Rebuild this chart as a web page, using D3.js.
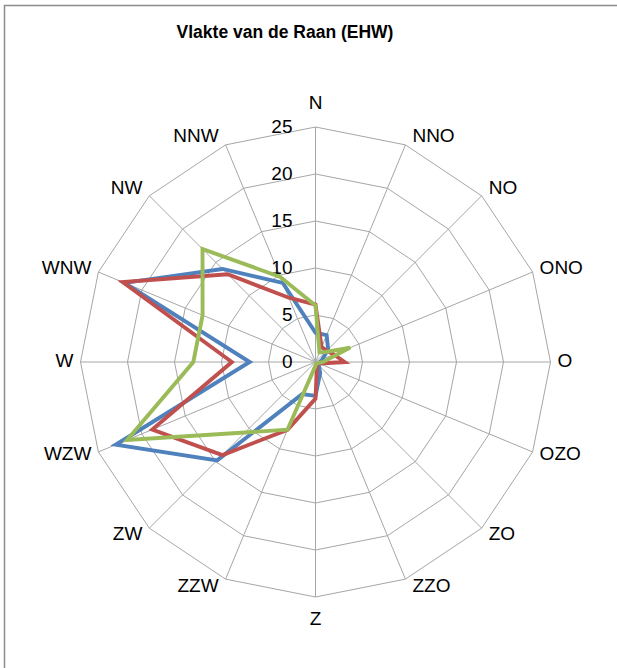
<!DOCTYPE html>
<html>
<head>
<meta charset="utf-8">
<script src="https://cdn.jsdelivr.net/npm/d3@7"></script>
<style>
  body { margin: 0; background: #fff; }
  svg text { font-family: "Liberation Sans", Arial, sans-serif; fill: #000; }
  .grid { fill: none; stroke: #a6a6a6; stroke-width: 1; }
  .serie { fill: none; stroke-width: 3.9; stroke-linejoin: miter; }
</style>
</head>
<body>
<svg id="chart" width="617" height="668"></svg>
<script>
const directions = ["N", "NNO", "NO", "ONO", "O", "OZO", "ZO", "ZZO", "Z", "ZZW", "ZW", "WZW", "W", "WNW", "NW", "NNW"];
const blueValues  = [3.1, 3.1, 1.9, 0.8, 0.5, 0.4, 0.5, 1.3, 3.6, 3.7, 14.8, 23.0, 7.0, 22.0, 14.0, 9.1];
const redValues   = [6.1, 1.7, 1.7, 2.1, 3.1, 0.4, 0.3, 0.4, 3.9, 7.8, 14.0, 18.8, 8.9, 22.2, 13.2, 7.4];
const greenValues = [6.0, 1.1, 1.5, 4.0, 0.8, 0.3, 0.2, 0.2, 0.4, 7.8, 10.6, 21.7, 13.0, 13.0, 17.0, 9.8];
const tickValues = [0, 5, 10, 15, 20, 25];
const chartTitle = "Vlakte van de Raan (EHW)";

const series = [
  { name: "blue", color: "#4f81bd", values: blueValues },
  { name: "red", color: "#c0504d", values: redValues },
  { name: "green", color: "#9bbb59", values: greenValues }
];

const svg = d3.select("#chart");
const cx = 315.5, cy = 362, radius = 235;

// chart frame (runs past the right and bottom edge)
svg.append("rect")
  .attr("x", 4.5)
  .attr("y", 5.5)
  .attr("width", 700)
  .attr("height", 700)
  .attr("fill", "none")
  .attr("stroke", "#8c8c8c")
  .attr("stroke-width", 1.5);

svg.append("text")
  .attr("x", 285)
  .attr("y", 38)
  .attr("text-anchor", "middle")
  .style("font-size", "17.5px")
  .style("font-weight", "bold")
  .text(chartTitle);

const r = d3.scaleLinear().domain([0, 25]).range([0, radius]);
const angle = d3.scaleBand().domain(directions).range([0, 2 * Math.PI]).align(0);

const g = svg.append("g").attr("transform", `translate(${cx},${cy})`);

// web rings
const ring = d3.lineRadial()
  .angle(d => angle(d.dir))
  .radius(d => r(d.value))
  .curve(d3.curveLinearClosed);

tickValues.filter(t => t > 0).forEach(t => {
  g.append("path")
    .attr("class", "grid")
    .attr("d", ring(directions.map(dir => ({ dir, value: t }))));
});

// spokes
directions.forEach(dir => {
  const a = angle(dir);
  g.append("line")
    .attr("class", "grid")
    .attr("x1", 0).attr("y1", 0)
    .attr("x2", r(25) * Math.sin(a))
    .attr("y2", -r(25) * Math.cos(a));
});

// tick labels
tickValues.forEach(t => {
  g.append("text")
    .attr("x", -23)
    .attr("y", -r(t) + 1)
    .attr("text-anchor", "end")
    .attr("dominant-baseline", "middle")
    .style("font-size", "19px")
    .text(t);
});

// category labels
directions.forEach(dir => {
  const a = angle(dir);
  const s = Math.sin(a), c = Math.cos(a);
  const vx = r(25) * s, vy = -r(25) * c;
  let anchor = "middle", x = vx, y = vy - c * 9;
  if (s > 0.01) { anchor = "start"; x = vx + 7; }
  else if (s < -0.01) { anchor = "end"; x = vx - 7; }
  else { y = vy - c * 23; }
  g.append("text")
    .attr("x", x)
    .attr("y", y)
    .attr("text-anchor", anchor)
    .attr("dominant-baseline", "middle")
    .style("font-size", "19px")
    .text(dir);
});

// data lines
const line = d3.lineRadial()
  .angle((d, i) => angle(directions[i]))
  .radius(d => r(d))
  .curve(d3.curveLinearClosed);

series.forEach(s => {
  g.append("path")
    .attr("class", "serie")
    .attr("stroke", s.color)
    .attr("d", line(s.values));
});
</script>
</body>
</html>
